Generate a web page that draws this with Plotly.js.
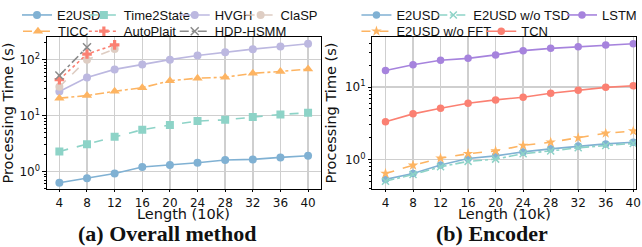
<!DOCTYPE html>
<html>
<head>
<meta charset="utf-8">
<script src="https://cdn.plot.ly/plotly-3.0.1.min.js"></script>
<style>html,body{margin:0;padding:0;background:#fff}#chart{width:642px;height:247px}</style>
</head>
<body>
<div id="chart"></div>
<script>
// ---- data ----
const lengths = [4, 8, 12, 16, 20, 24, 28, 32, 36, 40];
const xTickLabels = ["4", "8", "12", "16", "20", "24", "28", "32", "36", "40"];

// (a) Overall method
const e2usd = [0.63, 0.76, 0.92, 1.21, 1.31, 1.44, 1.61, 1.65, 1.79, 1.92];
const time2state = [2.29, 3.09, 4.2, 5.6, 6.8, 8.0, 8.4, 9.4, 10.5, 11.2];
const hvgh = [27, 48, 67, 82, 100, 119, 136, 154, 172, 192];
const ticc = [20.5, 22.8, 27.2, 31.6, 42, 46.7, 48.6, 57, 61.4, 68];
const claspX = [4, 8, 12];
const clasp = [32.7, 100, 155];
const autoplaitX = [4, 8, 12];
const autoplait = [44, 126, 184];
const hdphsmmX = [4, 8];
const hdphsmm = [52, 167];

// (b) Encoder
const encE2usd = [0.53, 0.64, 0.84, 1.03, 1.12, 1.27, 1.40, 1.53, 1.64, 1.73];
const encNoTsd = [0.50, 0.62, 0.79, 0.94, 1.01, 1.20, 1.31, 1.45, 1.56, 1.66];
const encLstm = [16.9, 20.3, 23.4, 24.9, 27.8, 31.8, 34.2, 36.1, 38.0, 39.7];
const encNoFft = [0.64, 0.83, 1.04, 1.20, 1.31, 1.56, 1.73, 1.98, 2.30, 2.47];
const encTcn = [3.32, 4.26, 5.1, 5.98, 6.64, 7.23, 8.2, 9.0, 9.9, 10.4];

const yTickVals = [1, 10, 100];
const yTickText = ["10<sup>0</sup>", "10<sup>1</sup>", "10<sup>2</sup>"];

// ---- styling ----
const W = 642, H = 247;
const AX = "DejaVu Sans";
const LG = "Liberation Sans";

function tr(x, y, name, color, dash, symbol, msize, xa, ya, leg, extra) {
  const t = {
    x: x, y: y, name: name, type: "scatter", mode: "lines+markers",
    xaxis: xa, yaxis: ya, legend: leg,
    line: {color: color, width: 1.6, dash: dash},
    marker: {color: color, size: msize, symbol: symbol, line: {width: 0}}
  };
  if (extra) Object.assign(t.marker, extra);
  return t;
}

const cBlue = "#80b1d3", cTeal = "#8dd3c7", cLav = "#bcb8e0", cBeige = "#decdc3",
      cOrange = "#fdb462", cRed = "#fb8072", cGray = "#8a8a8a", cPurple = "#a683dd";

const data = [
  tr(lengths, e2usd, "E2USD", cBlue, "solid", "circle", 8, "x", "y", "legend"),
  tr(lengths, time2state, "Time2State", cTeal, "dash", "square", 8, "x", "y", "legend2"),
  tr(lengths, hvgh, "HVGH", cLav, "solid", "circle", 8, "x", "y", "legend3"),
  tr(claspX, clasp, "ClaSP", cBeige, "dash", "circle", 8, "x", "y", "legend4"),
  tr(lengths, ticc, "TICC", cOrange, "dashdot", "triangle-up", 9, "x", "y", "legend5"),
  tr(autoplaitX, autoplait, "AutoPlait", cRed, "dot", "cross", 8, "x", "y", "legend6"),
  tr(hdphsmmX, hdphsmm, "HDP-HSMM", cGray, "dashdot", "x-thin", 8, "x", "y", "legend7",
     {line: {width: 1.5, color: cGray}}),

  tr(lengths, encE2usd, "E2USD", cBlue, "solid", "circle", 7.5, "x2", "y2", "legend8"),
  tr(lengths, encNoTsd, "E2USD w/o TSD", cTeal, "dashdot", "x-thin", 7, "x2", "y2", "legend9",
     {line: {width: 1.5, color: cTeal}}),
  tr(lengths, encLstm, "LSTM", cPurple, "solid", "circle", 7.5, "x2", "y2", "legend10"),
  tr(lengths, encNoFft, "E2USD w/o FFT", cOrange, "dash", "star", 8, "x2", "y2", "legend11"),
  tr(lengths, encTcn, "TCN", cRed, "solid", "circle", 7.5, "x2", "y2", "legend12")
];

// legend placement (text start px, centre y px)
const legPos = [
  [57, 13], [124, 13], [215, 13], [281, 13], [58, 29.5], [124, 29.5], [215, 29.5],
  [397, 13], [474, 13], [603, 13], [397, 29.5], [522, 29.5]
];

function xaxis(domain, range) {
  return {
    domain: domain, range: range, tickmode: "array", tickvals: lengths, ticktext: xTickLabels,
    showgrid: true, gridcolor: "#cfcfcf", gridwidth: 1.5,
    showline: true, mirror: true, linecolor: "#000", linewidth: 1,
    ticks: "outside", ticklen: 2, tickcolor: "#000", zeroline: false,
    tickfont: {family: AX, size: 12, color: "#111"},
    automargin: false
  };
}
function yaxis(domain, range, anchor) {
  return {
    type: "log", domain: domain, range: range, anchor: anchor,
    tickmode: "array", tickvals: yTickVals, ticktext: yTickText,
    showgrid: true, gridcolor: "#cfcfcf", gridwidth: 1.5,
    showline: true, mirror: true, linecolor: "#000", linewidth: 1,
    ticks: "outside", ticklen: 3.5, tickcolor: "#000", zeroline: false,
    minor: {dtick: "D1", ticks: "outside", ticklen: 2, tickcolor: "#000", showgrid: false},
    tickfont: {family: AX, size: 12, color: "#111"},
    title: {text: "Processing Time (s)", font: {family: AX, size: 14.5, color: "#111"}, standoff: 4},
    automargin: false
  };
}

function note(text, xpx, ypx, font) {
  return {text: text, x: xpx / W, y: 1 - ypx / H, xref: "paper", yref: "paper",
          showarrow: false, xanchor: "center", yanchor: "middle", font: font};
}
const xTitleFont = {family: AX, size: 14.5, color: "#111"};
const subFont = {family: "Liberation Serif", size: 22, color: "#111"};

const layout = {
  width: W, height: H,
  margin: {l: 0, r: 0, t: 0, b: 0},
  paper_bgcolor: "#fff", plot_bgcolor: "#fff",
  xaxis: xaxis([47 / W, 321 / W], [2.2, 41.8]),
  yaxis: yaxis([1 - 189 / H, 1 - 35 / H], [-0.32, 2.41], "x"),
  xaxis2: Object.assign(xaxis([373 / W, 637 / W], [2.1, 40.4]), {anchor: "y2"}),
  yaxis2: yaxis([1 - 189 / H, 1 - 35 / H], [-0.415, 1.695], "x2"),
  annotations: [
    note("Length (10k)", 184, 214, xTitleFont),
    note("Length (10k)", 505, 214, xTitleFont),
    note("<b>(a) Overall method</b>", 167, 233.5, subFont),
    note("<b>(b) Encoder</b>", 493, 233.5, subFont)
  ],
  showlegend: true
};
legPos.forEach((p, i) => {
  const key = i === 0 ? "legend" : "legend" + (i + 1);
  layout[key] = {
    x: (p[0] - 40) / W, y: 1 - p[1] / H, xref: "paper", yref: "paper",
    xanchor: "left", yanchor: "middle", orientation: "v",
    bgcolor: "rgba(0,0,0,0)", borderwidth: 0,
    font: {family: LG, size: 13, color: "#111"}
  };
});

Plotly.newPlot("chart", data, layout, {staticPlot: true, displayModeBar: false});
</script>
</body>
</html>
